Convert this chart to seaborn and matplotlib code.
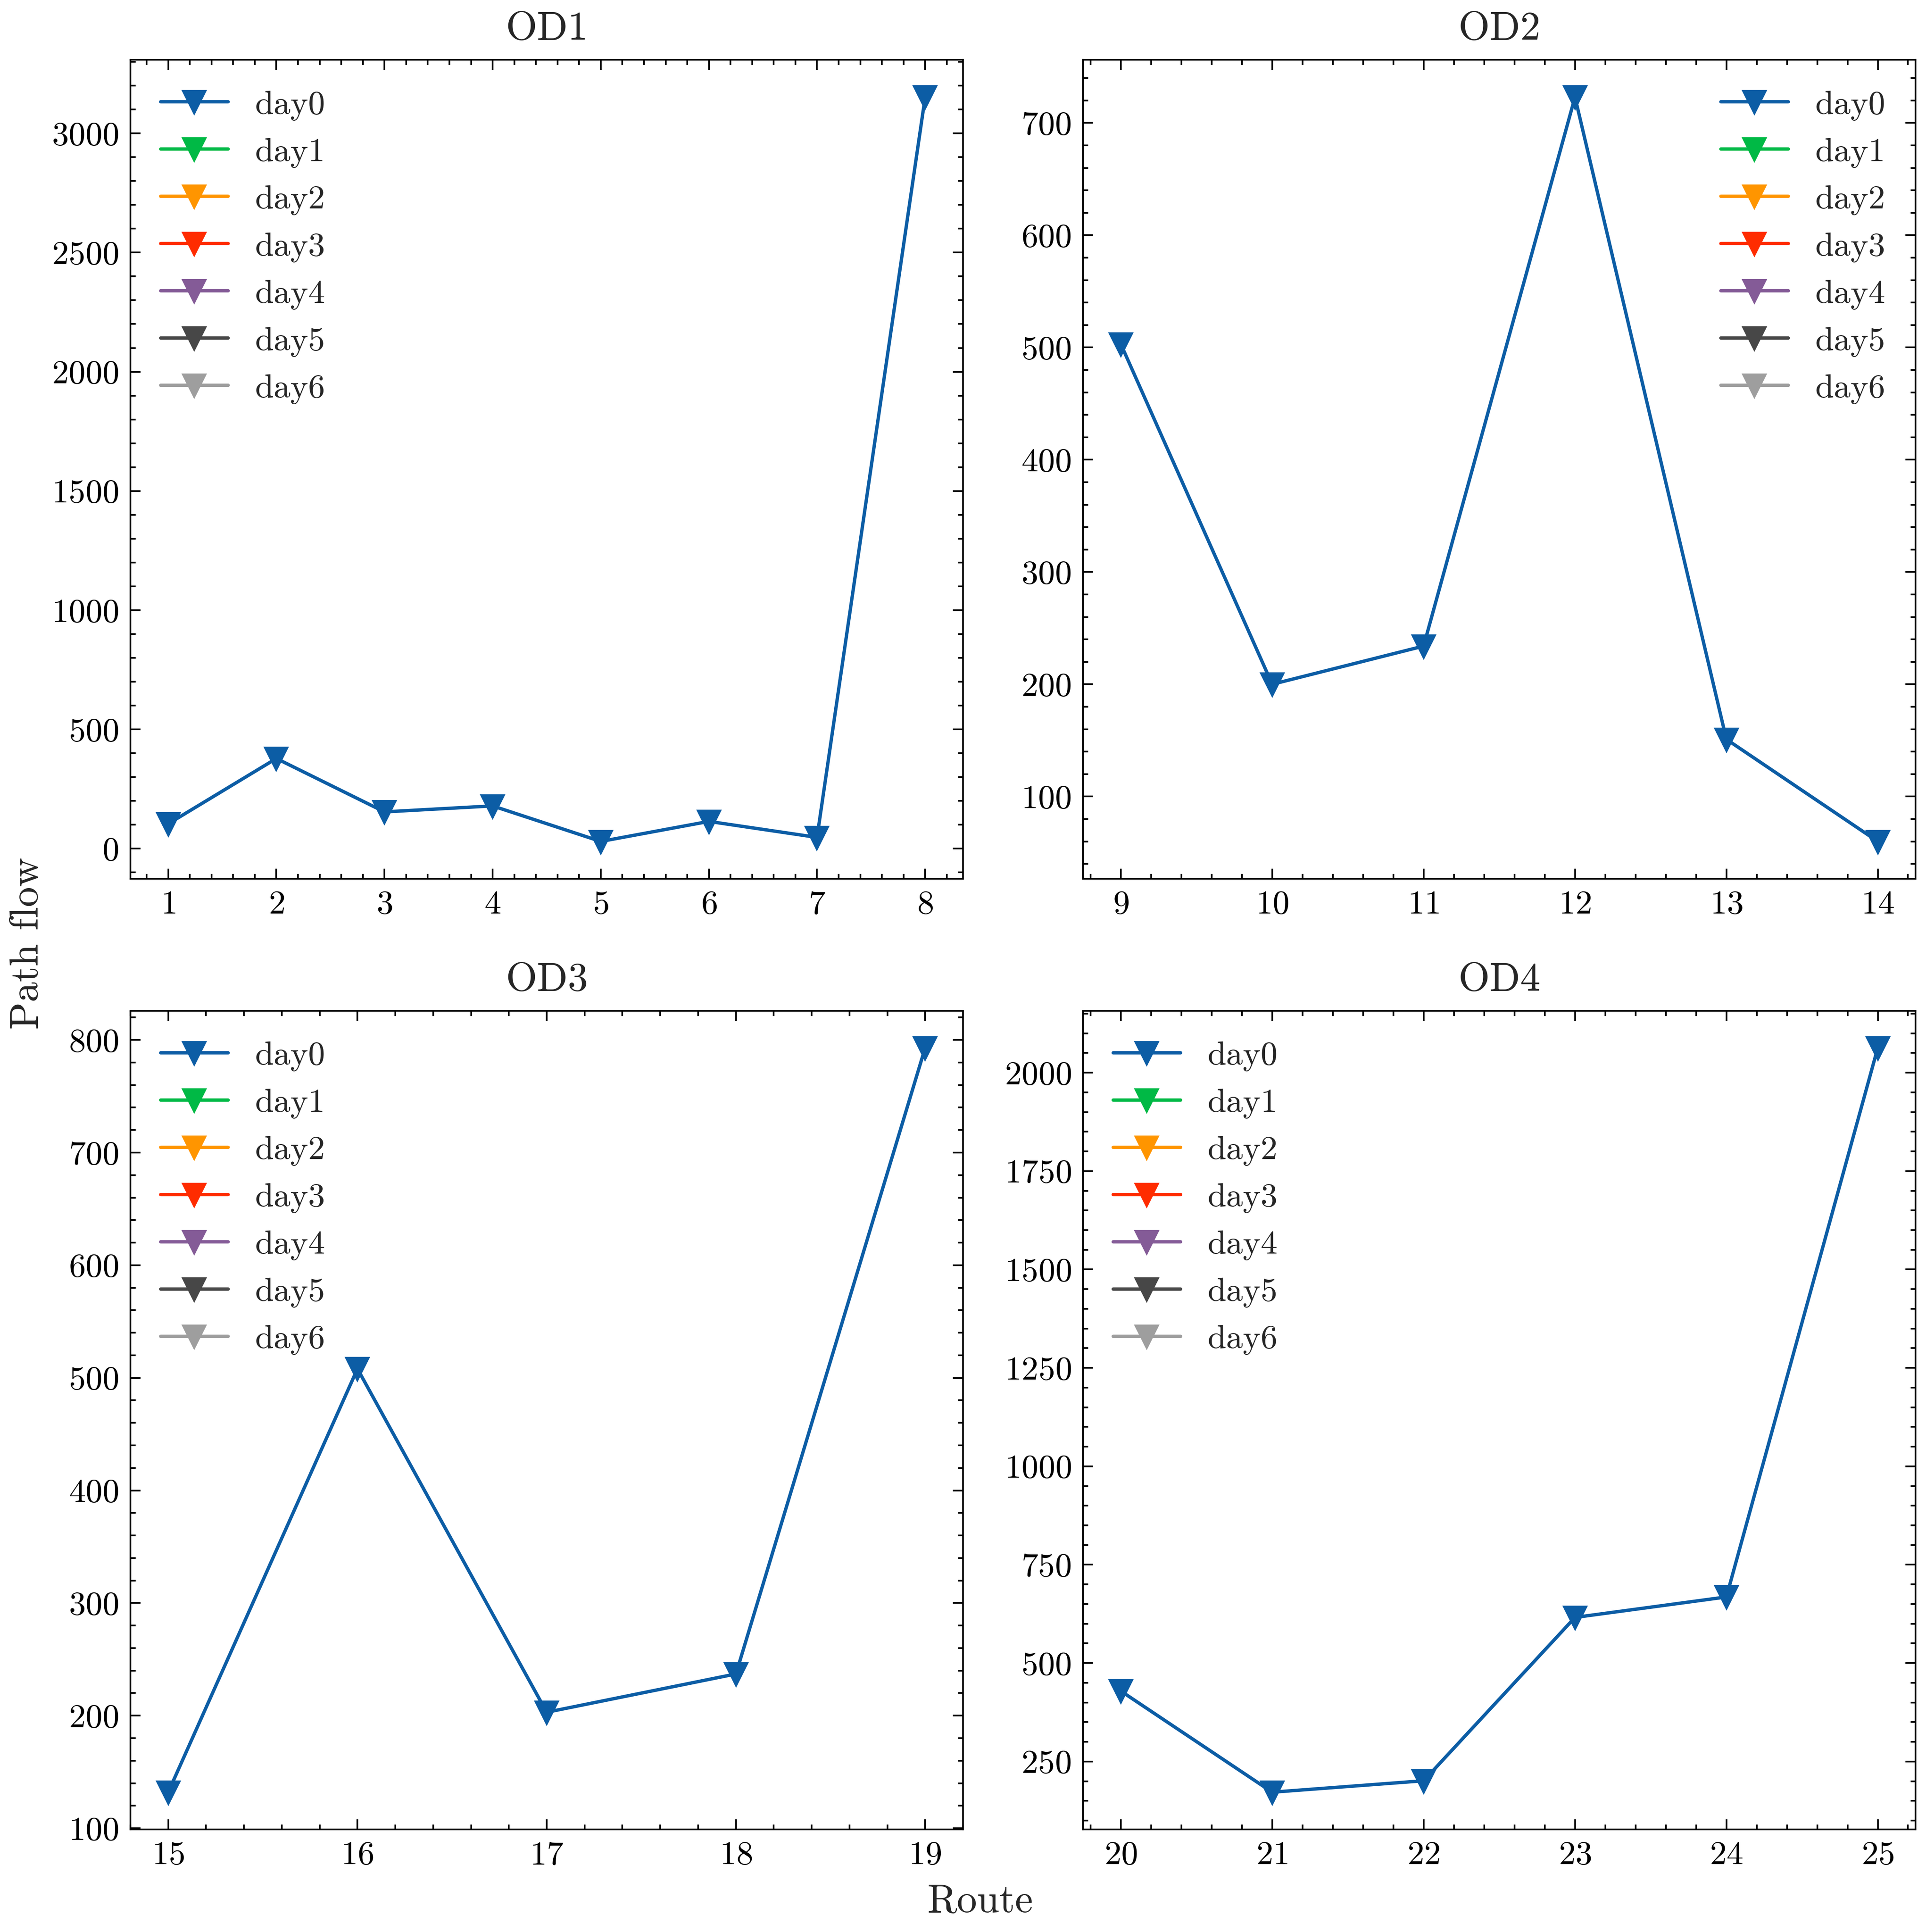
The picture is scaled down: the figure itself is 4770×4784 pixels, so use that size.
import numpy as np
import pandas as pd
import matplotlib
matplotlib.use("Agg")
import matplotlib.pyplot as plt
import seaborn as sns

# path flow per route (only day0 carries values)
od_names = ["OD1", "OD2", "OD3", "OD4"]
od1_routes = [1, 2, 3, 4, 5, 6, 7, 8]
od1_flow = [104, 378, 154, 179, 30, 114, 47, 3152]
od2_routes = [9, 10, 11, 12, 13, 14]
od2_flow = [503, 200, 234, 723, 151, 60]
od3_routes = [15, 16, 17, 18, 19]
od3_flow = [132, 508, 203, 237, 793]
od4_routes = [20, 21, 22, 23, 24, 25]
od4_flow = [429, 172, 201, 616, 668, 2063]

days = ["day0", "day1", "day2", "day3", "day4", "day5", "day6"]
day_colors = ["#0C5DA5", "#00B945", "#FF9500", "#FF2C00", "#845B97", "#474747", "#9E9E9E"]
legend_locs = ["upper left", "upper right", "upper left", "upper left"]

sns.set_theme(style="ticks")
plt.rcParams.update({
    "font.family": ["cmr10", "DejaVu Serif"],
    "mathtext.fontset": "cm",
    "axes.formatter.use_mathtext": True,
    "axes.unicode_minus": False,
    "font.size": 10,
    "axes.linewidth": 0.5,
    "axes.edgecolor": "black",
    "xtick.direction": "in",
    "ytick.direction": "in",
    "xtick.top": True,
    "ytick.right": True,
    "xtick.minor.visible": True,
    "ytick.minor.visible": True,
    "xtick.major.size": 3,
    "ytick.major.size": 3,
    "xtick.minor.size": 1.5,
    "ytick.minor.size": 1.5,
    "xtick.major.width": 0.5,
    "ytick.major.width": 0.5,
    "xtick.minor.width": 0.5,
    "ytick.minor.width": 0.5,
    "xtick.labelsize": 10,
    "ytick.labelsize": 10,
    "xtick.color": "black",
    "ytick.color": "black",
    "legend.fontsize": 10,
    "legend.frameon": False,
    "axes.titlesize": 12,
})

routes_all = [od1_routes, od2_routes, od3_routes, od4_routes]
flows_all = [od1_flow, od2_flow, od3_flow, od4_flow]

fig, axes = plt.subplots(2, 2, figsize=(4770 / 600, 4784 / 600), dpi=600)
fig.subplots_adjust(left=0.0677, right=0.9946, bottom=0.0531, top=0.969,
                    wspace=0.1441, hspace=0.1612)

for ax, name, routes, flow, loc in zip(axes.flat, od_names, routes_all, flows_all, legend_locs):
    df = pd.DataFrame({"route": routes, "flow": flow, "day": "day0"})
    sns.lineplot(data=df, x="route", y="flow", hue="day", hue_order=days,
                 palette=day_colors, marker="v", markersize=6,
                 markeredgecolor=None, markeredgewidth=1, linewidth=1,
                 ax=ax)
    ax.set_title(name)
    ax.set_xlabel("")
    ax.set_ylabel("")
    ax.set_xticks(routes)
    for s in ax.spines.values():
        s.set_visible(True)
        s.set_linewidth(0.5)
    sns.move_legend(ax, loc, title=None, frameon=False)

fig.text(0.0145, 0.5117, "Path flow", rotation=90, ha="center", va="center", fontsize=12)
fig.text(0.509, 0.0155, "Route", ha="center", va="center", fontsize=12)

fig.savefig("out.png", dpi=600, facecolor="white")
